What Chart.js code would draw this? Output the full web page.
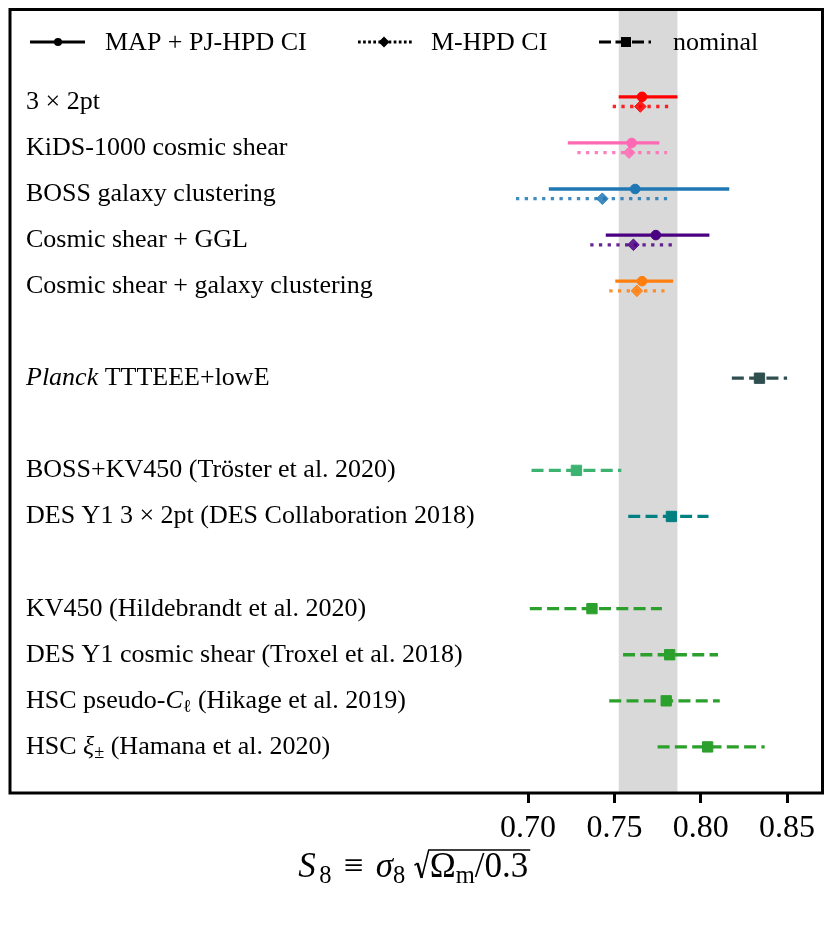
<!DOCTYPE html>
<html><head><meta charset="utf-8"><title>S8 comparison</title>
<script src="https://cdn.jsdelivr.net/npm/chart.js@4.4.1/dist/chart.umd.min.js"></script>
<style>html,body{margin:0;padding:0;background:#fff;overflow:hidden}canvas{display:block}</style>
</head><body>
<canvas id="chart" width="831" height="934"></canvas>
<script>
// ---------------- data ----------------
const tickValues = [0.70, 0.75, 0.80, 0.85];
const xRange = [0.400, 0.8705];
const rowRange = [-2, 15];
const band = [0.7525, 0.7865];

// KiDS-1000 results (rows 0-4)
const kidsLabels = ['3 × 2pt', 'KiDS-1000 cosmic shear', 'BOSS galaxy clustering', 'Cosmic shear + GGL', 'Cosmic shear + galaxy clustering'];
const kidsRows = [0, 1, 2, 3, 4];
const mapValue = [0.766, 0.760, 0.762, 0.774, 0.766];
const mapLow   = [0.7525, 0.723, 0.712, 0.745, 0.7505];
const mapHigh  = [0.7865, 0.776, 0.8165, 0.805, 0.784];
const mhpdValue = [0.765, 0.7585, 0.743, 0.761, 0.763];
const mhpdLow   = [0.749, 0.7285, 0.693, 0.736, 0.747];
const mhpdHigh  = [0.7815, 0.7805, 0.7805, 0.7835, 0.779];
const kidsColors = ['#ff0000', '#ff69b4', '#1f77b4', '#4b0082', '#ff7f0e'];
const kidsColorsMhpd = ['rgba(255,0,0,0.85)', 'rgba(255,105,180,0.85)', 'rgba(31,119,180,0.85)', 'rgba(75,0,130,0.85)', 'rgba(255,127,14,0.85)'];

// external results (nominal)
const extLabels = ['*Planck* TTTEEE+lowE', 'BOSS+KV450 (Tröster et al. 2020)', 'DES Y1 3 × 2pt (DES Collaboration 2018)', 'KV450 (Hildebrandt et al. 2020)', 'DES Y1 cosmic shear (Troxel et al. 2018)', 'HSC pseudo-*C*_{ℓ} (Hikage et al. 2019)', 'HSC *ξ*_{±} (Hamana et al. 2020)'];
const extRows = [6, 8, 9, 11, 12, 13, 14];
const nomValue = [0.834, 0.728, 0.783, 0.737, 0.782, 0.780, 0.804];
const nomLow   = [0.818, 0.702, 0.758, 0.701, 0.755, 0.747, 0.775];
const nomHigh  = [0.850, 0.754, 0.8045, 0.7775, 0.810, 0.811, 0.837];
const extColors = ['#2f4f4f', '#3cb371', '#008080', '#2ca02c', '#2ca02c', '#2ca02c', '#2ca02c'];

const legendLabels = ['MAP + PJ-HPD CI', 'M-HPD CI', 'nominal'];
const xTitleOuter = '*S*~_{8} ~≡~ *σ*_{8} ';
const xTitleRoot = 'Ω_{m}/0.3';

// ---------------- styling ----------------
const FONT = '"Liberation Serif", "Times New Roman", serif';
const ROW_OFF = 0.105;
const LW = 3.3;
const DOT = [3.3, 5.4];
const DASH = [12, 5.3];

const datasets = [];
// markers first (drawn on top)
datasets.push({
  label: 'MAP', order: 0, showLine: false,
  data: kidsRows.map((r, i) => ({x: mapValue[i], y: r - ROW_OFF})),
  pointStyle: 'circle', pointRadius: 4.8, pointBorderWidth: 1,
  pointBackgroundColor: kidsColors, pointBorderColor: kidsColors
});
datasets.push({
  label: 'M-HPD', order: 0, showLine: false,
  data: kidsRows.map((r, i) => ({x: mhpdValue[i], y: r + ROW_OFF})),
  pointStyle: 'rectRot', pointRadius: 5.8, pointBorderWidth: 1,
  pointBackgroundColor: kidsColorsMhpd, pointBorderColor: kidsColorsMhpd
});
datasets.push({
  label: 'nominal', order: 0, showLine: false,
  data: extRows.map((r, i) => ({x: nomValue[i], y: r})),
  pointStyle: 'rect', pointRadius: 7.3, pointBorderWidth: 1,
  pointBackgroundColor: extColors, pointBorderColor: extColors
});
kidsRows.forEach((r, i) => {
  datasets.push({
    order: 1, showLine: true, pointRadius: 0, borderWidth: LW, borderCapStyle: 'butt',
    borderColor: kidsColors[i],
    data: [{x: mapLow[i], y: r - ROW_OFF}, {x: mapHigh[i], y: r - ROW_OFF}]
  });
  datasets.push({
    order: 1, showLine: true, pointRadius: 0, borderWidth: LW, borderCapStyle: 'butt', borderDash: DOT,
    borderColor: kidsColorsMhpd[i],
    data: [{x: mhpdLow[i], y: r + ROW_OFF}, {x: mhpdHigh[i], y: r + ROW_OFF}]
  });
});
extRows.forEach((r, i) => {
  datasets.push({
    order: 1, showLine: true, pointRadius: 0, borderWidth: LW, borderCapStyle: 'butt', borderDash: DASH,
    borderColor: extColors[i],
    data: [{x: nomLow[i], y: r}, {x: nomHigh[i], y: r}]
  });
});

// ---------------- rich text helpers ----------------
function parseRich(s) {
  const segs = []; let italic = false, buf = '', i = 0;
  const flush = () => { if (buf) { segs.push({t: buf, it: italic, sub: false}); buf = ''; } };
  while (i < s.length) {
    const c = s[i];
    if (c === '*') { flush(); italic = !italic; i++; }
    else if (c === '~') { flush(); segs.push({gap: true}); i++; }
    else if (c === '_' && s[i + 1] === '{') {
      flush(); const j = s.indexOf('}', i);
      segs.push({t: s.slice(i + 2, j), it: false, sub: true}); i = j + 1;
    } else { buf += c; i++; }
  }
  flush(); return segs;
}
function drawRich(ctx, s, x, y, size, measureOnly) {
  for (const g of parseRich(s)) {
    if (g.gap) { x += size * 0.1; continue; }
    const fs = g.sub ? size * 0.7 : size;
    ctx.font = (g.it ? 'italic ' : '') + fs + 'px ' + FONT;
    if (!measureOnly) ctx.fillText(g.t, x, g.sub ? y + size * 0.16 : y);
    x += ctx.measureText(g.t).width;
  }
  return x;
}

const decor = {
  id: 'decor',
  beforeDatasetsDraw(chart) {
    const {ctx, chartArea: a, scales: {x}} = chart;
    const x0 = x.getPixelForValue(band[0]), x1 = x.getPixelForValue(band[1]);
    ctx.save(); ctx.fillStyle = '#d9d9d9';
    ctx.fillRect(x0, a.top, x1 - x0, a.bottom - a.top);
    ctx.restore();
  },
  afterDatasetsDraw(chart) {
    const {ctx, scales: {x, y}} = chart;
    ctx.save();
    ctx.fillStyle = '#000'; ctx.textBaseline = 'alphabetic'; ctx.textAlign = 'left';
    const LX = 26, FS = 26;
    kidsRows.forEach((r, i) => drawRich(ctx, kidsLabels[i], LX, y.getPixelForValue(r) + 7, FS));
    extRows.forEach((r, i) => drawRich(ctx, extLabels[i], LX, y.getPixelForValue(r) + 7, FS));

    // legend
    const ly = 42;
    ctx.strokeStyle = '#000'; ctx.fillStyle = '#000'; ctx.lineWidth = 3; ctx.lineCap = 'butt';
    ctx.setLineDash([]);
    ctx.beginPath(); ctx.moveTo(30, ly); ctx.lineTo(85, ly); ctx.stroke();
    ctx.beginPath(); ctx.arc(58, ly, 4, 0, Math.PI * 2); ctx.fill();
    ctx.setLineDash([2.7, 2.4]);
    ctx.beginPath(); ctx.moveTo(358, ly); ctx.lineTo(412, ly); ctx.stroke();
    ctx.setLineDash([]);
    ctx.beginPath(); ctx.moveTo(384 - 5.5, ly); ctx.lineTo(384, ly - 5.5); ctx.lineTo(384 + 5.5, ly); ctx.lineTo(384, ly + 5.5); ctx.closePath(); ctx.fill();
    ctx.setLineDash([12, 4.5]);
    ctx.beginPath(); ctx.moveTo(599, ly); ctx.lineTo(651, ly); ctx.stroke();
    ctx.setLineDash([]);
    ctx.fillRect(626 - 5, ly - 5, 10, 10);
    ctx.font = FS + 'px ' + FONT;
    ctx.fillText(legendLabels[0], 105, ly + 8);
    ctx.fillText(legendLabels[1], 431, ly + 8);
    ctx.fillText(legendLabels[2], 673, ly + 8);
    ctx.restore();
  },
  afterDraw(chart) {
    const {ctx, chartArea: a} = chart;
    ctx.save();
    ctx.strokeStyle = '#000'; ctx.lineWidth = 3; ctx.setLineDash([]);
    ctx.strokeRect(a.left, a.top, a.right - a.left, a.bottom - a.top);

    // x-axis title with radical
    const TS = 35, base = 877;
    ctx.fillStyle = '#000'; ctx.textBaseline = 'alphabetic';
    const w1 = drawRich(ctx, xTitleOuter, 0, base, TS, true);
    const rw = TS * 0.42;
    const w2 = drawRich(ctx, xTitleRoot, 0, base, TS, true);
    const total = w1 + rw + w2 + 3;
    let sx = (a.left + a.right) / 2 - total / 2 - 2;
    sx = drawRich(ctx, xTitleOuter, sx, base, TS);
    const top = base - TS * 0.77;
    ctx.lineJoin = 'miter';
    ctx.lineWidth = 1.6;
    ctx.beginPath();
    ctx.moveTo(sx + 0.5, base - TS * 0.33);
    ctx.lineTo(sx + TS * 0.1, base - TS * 0.40);
    ctx.stroke();
    ctx.lineWidth = 2.6;
    ctx.beginPath();
    ctx.moveTo(sx + TS * 0.1, base - TS * 0.40);
    ctx.lineTo(sx + TS * 0.22, base + 1);
    ctx.stroke();
    ctx.lineWidth = 1.5;
    ctx.beginPath();
    ctx.moveTo(sx + TS * 0.22, base + 1);
    ctx.lineTo(sx + rw, top);
    ctx.lineTo(sx + rw + w2 + 3, top);
    ctx.stroke();
    drawRich(ctx, xTitleRoot, sx + rw + 1, base, TS);
    ctx.restore();
  }
};

new Chart(document.getElementById('chart'), {
  type: 'scatter',
  data: {datasets},
  plugins: [decor],
  options: {
    responsive: false, animation: false, events: [],
    layout: {padding: {left: 10, top: 9.5, right: 8.5, bottom: 0}},
    plugins: {legend: {display: false}, tooltip: {enabled: false}},
    scales: {
      x: {
        type: 'linear', min: xRange[0], max: xRange[1],
        afterBuildTicks: s => { s.ticks = tickValues.map(v => ({value: v})); },
        afterFit: s => { s.height = 141; },
        grid: {display: true, drawOnChartArea: false, drawTicks: true, tickLength: 10, tickWidth: 3, tickColor: '#000'},
        border: {display: false},
        ticks: {autoSkip: false, maxRotation: 0, color: '#000', padding: 6,
                font: {family: FONT, size: 32},
                callback: v => Number(v).toFixed(2)}
      },
      y: {type: 'linear', min: rowRange[0], max: rowRange[1], reverse: true, display: false}
    }
  }
});
</script></body></html>
